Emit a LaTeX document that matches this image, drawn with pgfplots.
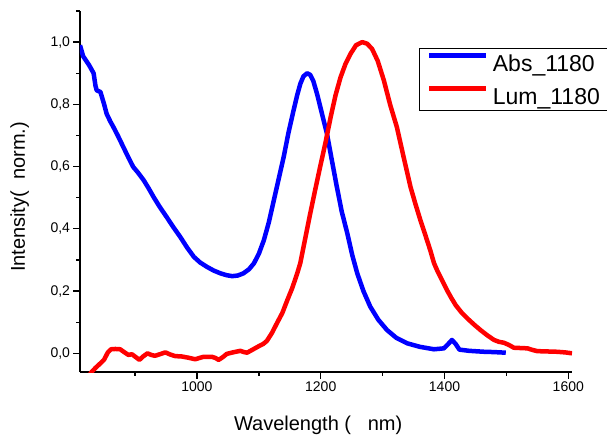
\documentclass[border=0pt]{standalone}
\usepackage{fontspec}
\setmainfont{Liberation Sans}
\usepackage{pgfplots}
\pgfplotsset{compat=1.18}
\pgfplotstableread{
x y
811 0.99
816 0.955
821 0.94
826 0.925
833 0.90
836 0.86
838 0.845
844 0.84
850 0.80
854 0.77
860 0.745
865 0.727
872 0.70
881 0.663
889 0.63
897 0.599
905 0.58
914 0.556
922 0.53
930 0.502
940 0.47
951 0.438
962 0.405
973 0.374
984 0.34
995 0.31
1005 0.292
1016 0.278
1027 0.266
1038 0.257
1048 0.251
1057 0.248
1066 0.250
1075 0.257
1084 0.27
1092 0.289
1100 0.32
1108 0.363
1116 0.42
1124 0.49
1132 0.56
1140 0.63
1148 0.71
1156 0.78
1162 0.83
1167 0.866
1172 0.89
1178 0.90
1183 0.895
1188 0.875
1194 0.834
1202 0.77
1210 0.706
1218 0.62
1226 0.535
1234 0.455
1243 0.385
1251 0.315
1259 0.257
1269 0.20
1280 0.15
1293 0.108
1307 0.075
1322 0.05
1340 0.032
1360 0.021
1383 0.013
1399 0.016
1406 0.03
1412 0.043
1418 0.03
1424 0.012
1440 0.008
1464 0.005
1480 0.004
1499 0.002
}\absdata
\pgfplotstableread{
x y
820 -0.09
830 -0.059
837 -0.045
844 -0.032
850 -0.02
856 0.003
861 0.013
868 0.014
876 0.013
883 0.003
889 -0.005
895 -0.003
901 -0.012
907 -0.021
913 -0.01
920 0.0
926 -0.005
932 -0.008
940 -0.003
949 0.003
957 -0.004
965 -0.009
975 -0.010
986 -0.014
997 -0.019
1004 -0.015
1011 -0.011
1024 -0.011
1030 -0.015
1035 -0.021
1042 -0.012
1048 -0.002
1058 0.003
1070 0.008
1076 0.004
1081 0.002
1090 0.012
1100 0.023
1107 0.03
1113 0.04
1121 0.065
1129 0.096
1138 0.13
1146 0.171
1154 0.21
1162 0.257
1167 0.29
1175 0.37
1183 0.449
1191 0.525
1199 0.599
1208 0.68
1216 0.759
1224 0.83
1232 0.887
1240 0.93
1248 0.962
1257 0.99
1267 1.0
1275 0.995
1283 0.978
1292 0.94
1302 0.877
1312 0.80
1323 0.727
1334 0.63
1345 0.535
1353 0.48
1361 0.428
1369 0.38
1377 0.331
1383 0.29
1388 0.267
1396 0.235
1404 0.203
1411 0.178
1418 0.155
1428 0.13
1437 0.112
1448 0.092
1458 0.075
1469 0.058
1480 0.043
1488 0.037
1496 0.034
1504 0.027
1512 0.018
1523 0.017
1534 0.016
1542 0.011
1550 0.007
1566 0.006
1582 0.005
1595 0.003
1606 0.0
}\lumdata
\begin{document}
\begin{tikzpicture}
\useasboundingbox (-80pt,-67pt) rectangle (527pt,372pt);
\begin{axis}[
  at={(0pt,0pt)}, anchor=south west,
  scale only axis, width=492pt, height=361pt,
  xmin=811, xmax=1606, ymin=-0.06, ymax=1.1,
  axis x line*=bottom, axis y line*=left,
  axis line style={line width=1.5pt, black},
  tick align=outside, major tick length=6.5pt, minor tick length=3.5pt,
  every tick/.style={line width=1.3pt, black},
  xtick={1000,1200,1400,1600}, minor xtick={900,1100,1300,1500},
  ytick={0,0.2,0.4,0.6,0.8,1.0}, minor ytick={0.1,0.3,0.5,0.7,0.9,1.1},
  /pgf/number format/assume math mode=true,
  yticklabel style={/pgf/number format/.cd, fixed, fixed zerofill, precision=1, use comma},
  xticklabel style={/pgf/number format/1000 sep={}},
  ticklabel style={font=\fontsize{14}{16}\selectfont},
  xlabel={Wavelength (~~~nm)},
  ylabel={Intensity(~~norm.)},
  xlabel style={at={(axis description cs:0.484,-0.161)}, anchor=base, font=\fontsize{20}{24}\selectfont},
  ylabel style={at={(axis description cs:-0.112,0.485)}, anchor=base, font=\fontsize{20}{24}\selectfont},
  legend style={draw=black, line width=0.8pt, at={(rel axis cs:0.6896,0.898)}, anchor=north west,
    font=\fontsize{23}{26}\selectfont, inner xsep=7.5pt, inner ysep=2.5pt, row sep=8.6pt, column sep=1.7pt,
    nodes={inner sep=2.5pt, text height=18.5pt, text depth=1pt}},
  legend cell align=left,
  legend image code/.code={\draw[#1, line width=4.5pt] (0pt,7.4pt) -- (57pt,7.4pt);},
]
\addplot[blue, line width=4.5pt, line join=round] table[x=x,y=y] {\absdata};
\addplot[red, line width=4.5pt, line join=round] table[x=x,y=y] {\lumdata};
\legend{Abs\_1180, Lum\_1180}
\end{axis}
\end{tikzpicture}
\end{document}
